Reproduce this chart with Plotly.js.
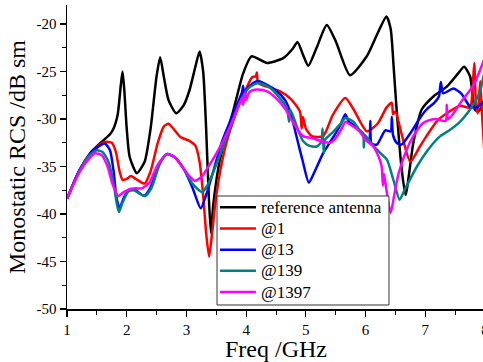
<!DOCTYPE html>
<html>
<head>
<meta charset="utf-8">
<script src="https://cdn.plot.ly/plotly-3.0.1.min.js"></script>
<style>
html,body{margin:0;padding:0;overflow:hidden;background:#fff;width:483px;height:362px;}
#chart{width:490px;height:362px;}
</style>
</head>
<body>
<div id="chart"></div>
<script>
const seriesNames = ["reference antenna", "@1", "@13", "@139", "@1397"];
const seriesColors = ["#000000", "#ff0000", "#0000ff", "#008080", "#ff00ff"];

const refX = [1.0,1.2,1.4,1.6,1.72,1.78,1.85,1.9,1.93,1.96,2.0,2.05,2.17,2.3,2.4,2.5,2.56,2.62,2.7,2.83,2.95,3.05,3.15,3.22,3.28,3.33,3.37,3.41,3.45,3.56,3.79,3.95,4.09,4.35,4.62,4.78,4.86,4.95,5.04,5.18,5.35,5.5,5.74,6.02,6.2,6.35,6.42,6.47,6.52,6.6,6.67,6.8,6.94,7.14,7.36,7.55,7.65,7.75,7.83,7.89,8.0];
const refY = [-38.4,-35.5,-33.5,-32.3,-31.6,-31.0,-29.5,-26.5,-25.0,-27.0,-31.0,-34.0,-35.7,-34.5,-31.0,-25.5,-23.5,-25.5,-28.0,-29.4,-28.6,-27.0,-24.5,-22.9,-25.0,-31.0,-37.5,-42.0,-39.0,-34.3,-29.0,-25.2,-23.4,-24.1,-23.6,-22.6,-21.9,-23.2,-24.4,-22.5,-20.1,-21.8,-25.4,-23.4,-21.0,-19.2,-20.5,-24.5,-29.0,-35.0,-38.0,-32.5,-29.0,-27.6,-26.6,-25.2,-24.5,-25.5,-29.0,-29.2,-28.0];

const s1X = [1.0,1.2,1.4,1.55,1.65,1.75,1.82,1.88,1.93,2.0,2.07,2.15,2.3,2.4,2.52,2.62,2.7,2.78,2.9,3.05,3.15,3.22,3.28,3.33,3.38,3.43,3.5,3.65,3.85,4.0,4.1,4.16,4.18,4.2,4.35,4.57,4.75,4.9,4.93,4.95,5.0,5.1,5.29,5.45,5.66,5.8,6.02,6.2,6.35,6.44,6.46,6.5,6.6,6.75,6.9,7.02,7.2,7.36,7.58,7.75,7.79,7.82,7.85,7.88,7.92,7.95,8.0];
const s1Y = [-38.4,-35.5,-33.6,-32.7,-32.4,-32.5,-33.5,-35.5,-36.4,-36.3,-36.0,-36.3,-36.8,-35.5,-32.5,-30.8,-30.5,-31.0,-31.9,-32.3,-32.8,-34.5,-38.0,-42.0,-44.5,-42.0,-38.0,-33.0,-29.0,-26.8,-25.6,-25.5,-25.1,-26.2,-26.6,-27.1,-27.9,-29.2,-31.0,-29.8,-31.0,-31.8,-31.8,-29.6,-27.8,-29.0,-31.3,-30.5,-28.8,-28.3,-29.5,-29.2,-31.5,-34.5,-33.0,-31.8,-30.2,-29.4,-28.6,-28.8,-27.0,-24.1,-28.5,-29.4,-26.0,-29.5,-34.5];

const s2X = [1.0,1.2,1.4,1.55,1.64,1.72,1.78,1.83,1.88,1.95,2.05,2.15,2.29,2.4,2.55,2.67,2.8,2.95,3.1,3.24,3.33,3.45,3.6,3.8,3.93,3.95,3.97,4.0,4.1,4.2,4.35,4.5,4.65,4.75,4.85,4.95,5.05,5.15,5.29,5.45,5.58,5.66,5.72,5.82,5.95,6.06,6.08,6.1,6.19,6.33,6.42,6.44,6.46,6.52,6.6,6.75,6.9,7.02,7.15,7.23,7.26,7.3,7.47,7.6,7.75,7.85,8.0];
const s2Y = [-38.4,-35.5,-33.6,-32.8,-32.6,-33.3,-35.5,-38.3,-39.4,-38.3,-37.4,-37.5,-38.1,-37.2,-34.6,-33.7,-34.0,-35.2,-37.2,-39.4,-38.0,-35.5,-32.3,-29.2,-27.2,-26.5,-27.9,-27.0,-26.3,-26.0,-26.4,-27.0,-28.0,-29.5,-32.0,-34.5,-36.7,-35.5,-33.6,-32.0,-30.6,-29.5,-30.3,-30.7,-31.5,-32.3,-30.2,-32.6,-32.7,-31.2,-31.3,-29.8,-31.7,-32.5,-32.7,-31.5,-30.0,-29.0,-28.3,-27.6,-26.1,-27.3,-26.8,-27.3,-28.7,-28.8,-28.0];

const s3X = [1.0,1.2,1.35,1.5,1.6,1.7,1.78,1.83,1.87,1.93,2.03,2.12,2.2,2.31,2.42,2.55,2.67,2.8,2.95,3.1,3.26,3.35,3.5,3.7,3.9,4.05,4.2,4.4,4.55,4.68,4.72,4.74,4.85,4.95,5.05,5.18,5.26,5.28,5.3,5.32,5.45,5.58,5.66,5.8,5.9,5.96,5.97,5.99,6.1,6.25,6.36,6.47,6.57,6.65,6.86,7.05,7.25,7.4,7.58,7.75,7.85,7.92,8.0];
const s3Y = [-38.4,-35.6,-34.0,-33.3,-33.5,-34.6,-36.8,-38.8,-39.8,-38.8,-37.6,-37.5,-37.8,-38.1,-37.2,-34.8,-33.7,-34.0,-35.2,-36.8,-37.7,-37.0,-34.8,-31.5,-28.2,-26.7,-26.2,-26.7,-27.7,-28.8,-30.3,-29.0,-30.8,-32.3,-32.8,-32.9,-32.4,-31.0,-33.6,-32.2,-31.4,-30.5,-29.9,-30.3,-31.2,-31.5,-33.0,-31.7,-32.6,-33.6,-34.3,-36.5,-38.5,-37.5,-35.0,-33.2,-31.8,-31.2,-30.3,-29.0,-28.0,-27.0,-24.8];

const s4X = [1.0,1.2,1.35,1.47,1.58,1.68,1.76,1.86,1.95,2.05,2.15,2.25,2.38,2.52,2.68,2.8,2.95,3.05,3.14,3.25,3.4,3.6,3.8,3.93,3.95,3.98,4.0,4.05,4.1,4.2,4.35,4.5,4.65,4.8,4.95,5.1,5.29,5.41,5.5,5.6,5.66,5.75,5.9,6.0,6.13,6.22,6.27,6.29,6.31,6.35,6.42,6.48,6.55,6.69,6.8,6.97,7.15,7.34,7.36,7.38,7.45,7.6,7.81,8.0];
const s4Y = [-38.4,-35.7,-34.3,-33.6,-33.8,-35.0,-36.8,-38.1,-37.7,-37.4,-37.3,-37.3,-36.7,-34.8,-33.7,-34.0,-35.2,-36.0,-36.5,-36.1,-34.7,-32.5,-29.8,-27.8,-28.5,-27.2,-28.0,-27.2,-27.0,-26.9,-27.1,-27.8,-28.9,-30.5,-31.8,-32.0,-32.4,-32.5,-32.0,-31.0,-30.3,-30.6,-31.3,-32.2,-32.9,-34.0,-35.0,-37.0,-35.8,-37.5,-39.9,-38.0,-35.8,-33.2,-31.8,-30.4,-30.0,-30.2,-28.5,-30.0,-29.6,-28.2,-26.4,-23.5];

const xTickVals = [1,2,3,4,5,6,7,8];
const yTickVals = [-50,-45,-40,-35,-30,-25,-20];

const allX = [refX, s1X, s2X, s3X, s4X];
const allY = [refY, s1Y, s2Y, s3Y, s4Y];

const traces = allX.map((xs, i) => ({
  x: xs, y: allY[i], type: 'scatter', mode: 'lines',
  name: '<span style="font-size:17px">' + seriesNames[i] + '</span>',
  line: {color: seriesColors[i], width: 2.5, shape: 'spline', smoothing: 0.6}
}));

const fontFam = 'Liberation Serif, serif';

const layout = {
  width: 490, height: 362,
  margin: {l: 67, r: 5, t: 5, b: 53},
  paper_bgcolor: '#fff', plot_bgcolor: '#fff',
  showlegend: true,
  font: {family: fontFam, color: '#000', size: 15},
  xaxis: {
    range: [1, 8], tickvals: xTickVals, ticktext: xTickVals.map(String),
    ticks: 'outside', ticklen: 6, tickwidth: 1.2, tickcolor: '#000',
    showline: true, linecolor: '#000', linewidth: 1.5, mirror: false,
    showgrid: false, zeroline: false,
    minor: {dtick: 0.5, tick0: 1, ticks: 'outside', ticklen: 4, tickcolor: '#000', tickwidth: 1, showgrid: false},
    tickfont: {family: fontFam, size: 15, color: '#000'},
    title: {text: 'Freq /GHz', font: {family: fontFam, size: 24, color: '#000'}, standoff: 0}
  },
  yaxis: {
    range: [-50, -18], tickvals: yTickVals, ticktext: yTickVals.map(String),
    ticks: 'outside', ticklen: 6, tickwidth: 1.2, tickcolor: '#000',
    showline: true, linecolor: '#000', linewidth: 1.5, mirror: false,
    showgrid: false, zeroline: false,
    minor: {dtick: 2.5, tick0: -50, ticks: 'outside', ticklen: 4, tickcolor: '#000', tickwidth: 1, showgrid: false},
    tickfont: {family: fontFam, size: 15, color: '#000'},
    title: {text: 'Monostatic RCS /dB sm', font: {family: fontFam, size: 24, color: '#000'}, standoff: 4}
  },
  shapes: [{
    type: 'rect', xref: 'paper', yref: 'paper', layer: 'above',
    x0: 0.3589, x1: 0.7703, y0: 0.0132, y1: 0.3717,
    fillcolor: '#fff', line: {color: '#333', width: 1}
  }],
  legend: {
    x: 0.354, y: 0.386, xanchor: 'left', yanchor: 'top',
    bgcolor: 'rgba(0,0,0,0)', borderwidth: 0, itemwidth: 36,
    font: {family: fontFam, size: 14, color: '#000'},
    tracegroupgap: 0
  }
};

Plotly.newPlot('chart', traces, layout, {displayModeBar: false, staticPlot: true});
</script>
</body>
</html>
